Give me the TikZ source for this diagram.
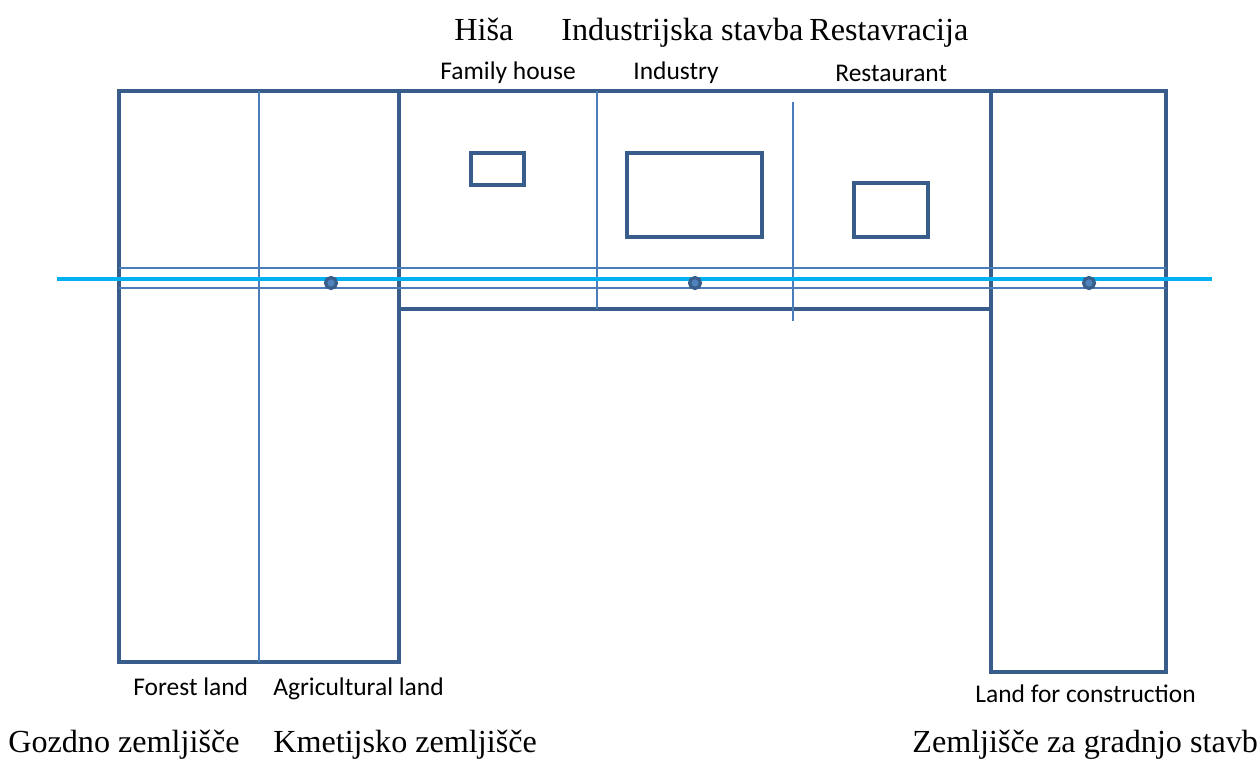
\documentclass[tikz,border=0pt]{standalone}
\usepackage{fontspec}
\setmainfont{Liberation Serif}
\newfontfamily\lblfont{Carlito}
\usetikzlibrary{positioning}

\definecolor{plotblue}{HTML}{385D8A}
\definecolor{thinblue}{HTML}{4A7EBB}
\definecolor{fillblue}{HTML}{4F81BD}
\definecolor{roadblue}{HTML}{00B0F0}

\begin{document}
\begin{tikzpicture}[x=0.02cm, y=-0.02cm,
    plotline/.style={draw=plotblue, line width=2.4pt},
    divline/.style={draw=thinblue, line width=1.4pt},
    road/.style={draw=roadblue, line width=2.5pt},
    pole/.style={draw=plotblue, fill=fillblue, line width=1.8pt},
    sitxt/.style={anchor=base west, inner sep=0pt, font=\fontsize{18.3}{20}\selectfont},
    entxt/.style={anchor=base west, inner sep=0pt, font=\lblfont\fontsize{14.5}{16}\selectfont}]
    \useasboundingbox (0,0) rectangle (1257,758);

    % Forest and agricultural land
    \draw[plotline] (119,91) rectangle (399,662);
    \draw[divline] (259,91) -- (259,662);

    % Building plots in the middle
    \draw[plotline] (399,91) -- (991,91);
    \draw[plotline] (399,309) -- (991,309);
    \draw[divline] (597,91) -- (597,309);
    \draw[divline] (793,102) -- (793,321);

    % Land for construction
    \draw[plotline] (991,91) rectangle (1166,672);

    % Buildings
    \draw[plotline] (471,153) rectangle (524,185);
    \draw[plotline] (627,153) rectangle (762,237);
    \draw[plotline] (854,183) rectangle (928,237);

    % Road lines
    \draw[divline] (119,268) -- (1166,268);
    \draw[divline] (119,288) -- (1166,288);
    \draw[road] (57,279) -- (1212,279);

    % Poles
    \foreach \px in {331,695,1089}
        \filldraw[pole] (\px,283) circle (5.5);

    % Slovene labels on top
    \node[sitxt] (hisa) at (454,40) {Hiša};
    \node[sitxt] (ind) at (561,40) {Industrijska stavba};
    \node[sitxt] (rest) at (809,40) {Restavracija};

    % English labels on top
    \node[entxt] (family) at (440,79) {Family house};
    \node[entxt] (industry) at (633,79) {Industry};
    \node[entxt] (restaurant) at (835,81) {Restaurant};

    % English labels at the bottom
    \node[entxt] (forest) at (133,695) {Forest land};
    \node[entxt] (agri) at (273,695) {Agricultural land};
    \node[entxt] (constr) at (975,702) {Land for construction};

    % Slovene labels at the bottom
    \node[sitxt] (gozd) at (8,752) {Gozdno zemljišče};
    \node[sitxt] (kmet) at (273,752) {Kmetijsko zemljišče};
    \node[sitxt] (gradnja) at (912,752) {Zemljišče za gradnjo stavb};
\end{tikzpicture}
\end{document}
